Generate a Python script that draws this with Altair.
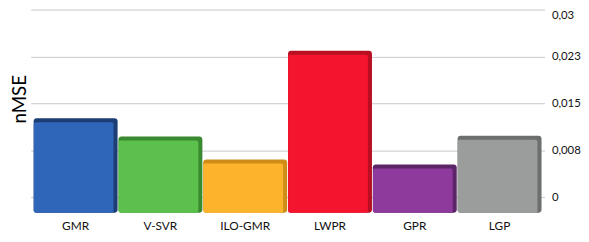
import altair as alt
import pandas as pd

methods = ["GMR", "V-SVR", "ILO-GMR", "LWPR", "GPR", "LGP"]
nmse = [0.0126, 0.0097, 0.0060, 0.0234, 0.0052, 0.0098]
front_colors = ["#2f66b9", "#5cc04c", "#fdb42c", "#f5142d", "#8e3a9d", "#9b9d9c"]
side_colors = ["#1c3e74", "#3a8a32", "#cf8d18", "#b80f22", "#5c2567", "#6c6f6e"]

tick_values = [0, 0.0075, 0.015, 0.0225, 0.03]
tick_labels = ["0", "0,008", "0,015", "0,023", "0,03"]
floor_value = -0.0025  # perspective floor of the 3D plot box

df = pd.DataFrame({"method": methods, "nmse": nmse,
                   "front": front_colors, "side": side_colors})

expr = "''"
for v, lab in zip(tick_values, tick_labels):
    expr = f"abs(datum.value - {v}) < 0.001 ? '{lab}' : ({expr})"

FONT = "Lato"

x_enc = alt.X("method:N", sort=methods,
              scale=alt.Scale(paddingInner=0.01, paddingOuter=0.035),
              axis=alt.Axis(title=None, labelAngle=0, ticks=False, domain=False,
                            labelPadding=8, labelFontSize=12, labelFont=FONT,
                            labelColor="#111"))
y_scale = alt.Scale(domain=[floor_value, 0.03], nice=False, zero=False)

back = alt.Chart(df).mark_bar(cornerRadius=3).encode(
    x=x_enc,
    y=alt.Y("nmse:Q", scale=y_scale,
            axis=alt.Axis(orient="right", title=None, values=tick_values,
                          labelExpr=expr, ticks=False, domain=False,
                          labelPadding=7, labelFontSize=11.5, labelFont=FONT,
                          labelFlush=True, labelFlushOffset=0,
                          labelColor="#111", grid=True, gridColor="#c8c8c8")),
    y2=alt.datum(floor_value),
    color=alt.Color("side:N", scale=None),
)

front = alt.Chart(df).mark_bar(cornerRadius=2, yOffset=4,
                               width=alt.RelativeBandSize(0.95), xOffset=-2).encode(
    x=alt.X("method:N", sort=methods),
    y=alt.Y("nmse:Q", scale=y_scale),
    y2=alt.datum(floor_value),
    color=alt.Color("front:N", scale=None),
)

chart = alt.layer(back, front).properties(
    width=521, height=206,
    autosize=alt.AutoSizeParams(type="none"),
    padding={"left": 23, "top": 0, "right": 37, "bottom": 20},
    title=alt.TitleParams("nMSE", orient="left", fontSize=19, fontWeight="normal",
                          font=FONT, color="#000", offset=1, dx=12),
).configure_view(stroke=None)

chart.save("out.html", embed_options={"renderer": "svg", "actions": False})
